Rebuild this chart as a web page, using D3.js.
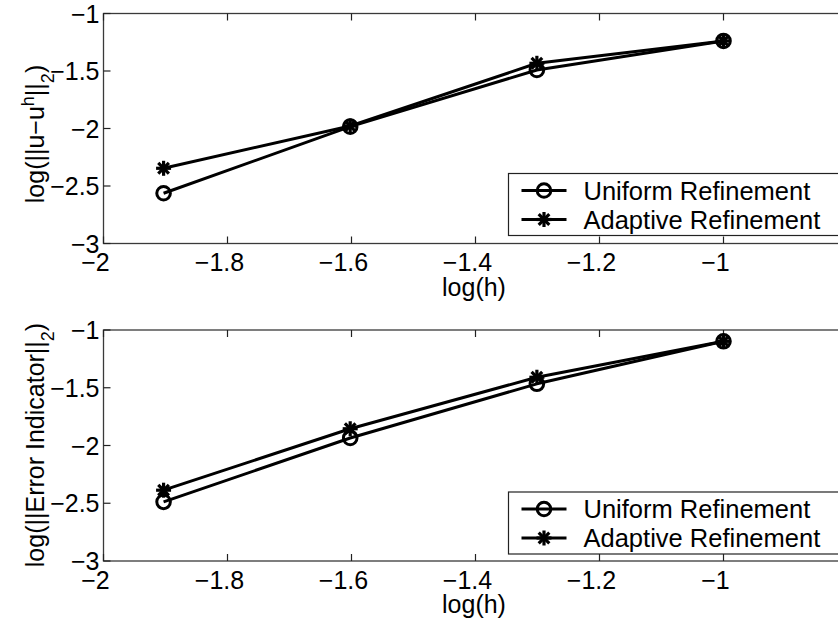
<!DOCTYPE html>
<html>
<head>
<meta charset="utf-8">
<script src="https://cdn.jsdelivr.net/npm/d3@7"></script>
<style>
  html, body { margin: 0; padding: 0; background: #fff; }
  svg { display: block; }
  text { font-family: "Liberation Sans", Arial, Helvetica, sans-serif; fill: #000; }
</style>
</head>
<body>
<svg id="chart" width="838" height="624"></svg>
<script>
// log10(h) for h = 1/80, 1/40, 1/20, 1/10
const logH = [-1.9031, -1.6021, -1.3010, -1.0];

// log(||u - u^h||_2)
const errUniform  = [-2.563, -1.984, -1.491, -1.239];
const errAdaptive = [-2.346, -1.978, -1.433, -1.239];

// log(||Error Indicator||_2)
const indUniform  = [-2.488, -1.935, -1.466, -1.098];
const indAdaptive = [-2.387, -1.855, -1.409, -1.098];

const xTicks = [-2, -1.8, -1.6, -1.4, -1.2, -1];
const yTicks = [-3, -2.5, -2, -1.5, -1];
const seriesNames = ["Uniform Refinement", "Adaptive Refinement"];

const svg = d3.select("#chart");
const fmt = v => String(v).replace("-", "\u2212");
const LW = 3;

function panel(cfg) {
  const x = d3.scaleLinear().domain([-2, -0.8]).range([103.5, 847.5]);
  const y = d3.scaleLinear().domain([-3, -1]).range([cfg.bottom, cfg.top]);
  const g = svg.append("g");

  // frame
  g.append("rect")
    .attr("x", x(-2)).attr("y", y(-1))
    .attr("width", x(-0.8) - x(-2)).attr("height", y(-3) - y(-1))
    .attr("fill", "none").attr("stroke", "#3a3a3a").attr("stroke-width", 1.3);

  // inward ticks on all sides
  const tl = 7;
  xTicks.forEach(t => {
    g.append("line").attr("x1", x(t)).attr("x2", x(t))
      .attr("y1", y(-3)).attr("y2", y(-3) - tl).attr("stroke", "#222").attr("stroke-width", 1.2);
    g.append("line").attr("x1", x(t)).attr("x2", x(t))
      .attr("y1", y(-1)).attr("y2", y(-1) + tl).attr("stroke", "#222").attr("stroke-width", 1.2);
    g.append("text").attr("x", x(t) - 8).attr("y", y(-3) + 27.5)
      .attr("text-anchor", "middle").attr("font-size", 25).text(fmt(t));
  });
  yTicks.forEach(t => {
    g.append("line").attr("x1", x(-2)).attr("x2", x(-2) + tl)
      .attr("y1", y(t)).attr("y2", y(t)).attr("stroke", "#222").attr("stroke-width", 1.2);
    g.append("line").attr("x1", x(-0.8)).attr("x2", x(-0.8) - tl)
      .attr("y1", y(t)).attr("y2", y(t)).attr("stroke", "#222").attr("stroke-width", 1.2);
    g.append("text").attr("x", x(-2) - 4).attr("y", y(t) + 9)
      .attr("text-anchor", "end").attr("font-size", 25).text(fmt(t));
  });

  // x label
  g.append("text").attr("x", 474).attr("y", y(-3) + 52)
    .attr("text-anchor", "middle").attr("font-size", 25).text("log(h)");

  // y label
  const yl = g.append("text")
    .attr("transform", `translate(44,${cfg.ylabelY}) rotate(-90)`)
    .attr("text-anchor", "middle").attr("font-size", 25);
  cfg.ylabel(yl);

  const line = d3.line().x((d, i) => x(logH[i])).y(d => y(d));

  const series = [
    { vals: cfg.uniform, marker: "circle" },
    { vals: cfg.adaptive, marker: "star" }
  ];
  series.forEach(s => {
    g.append("path").datum(s.vals).attr("d", line)
      .attr("fill", "none").attr("stroke", "#000").attr("stroke-width", LW)
      .attr("stroke-linejoin", "round");
  });
  series.forEach(s => {
    s.vals.forEach((v, i) => drawMarker(g, s.marker, x(logH[i]), y(v)));
  });

  // legend
  const lx = 508.5, ly = cfg.legendTop, lh = 62;
  g.append("rect").attr("x", lx).attr("y", ly).attr("width", 360).attr("height", lh)
    .attr("fill", "#fff").attr("stroke", "#222").attr("stroke-width", 1.2);
  seriesNames.forEach((name, i) => {
    const cy = ly + 17 + i * 29;
    g.append("line").attr("x1", lx + 13).attr("x2", lx + 58)
      .attr("y1", cy).attr("y2", cy).attr("stroke", "#000").attr("stroke-width", LW);
    drawMarker(g, i === 0 ? "circle" : "star", lx + 35.5, cy);
    g.append("text").attr("x", lx + 75).attr("y", cy + 9)
      .attr("font-size", 25.5).text(name);
  });
}

function drawMarker(g, type, cx, cy) {
  if (type === "circle") {
    g.append("circle").attr("cx", cx).attr("cy", cy).attr("r", 6.8)
      .attr("fill", "none").attr("stroke", "#000").attr("stroke-width", LW);
  } else {
    const r = 7.5;
    for (let k = 0; k < 4; k++) {
      const a = k * Math.PI / 4;
      g.append("line")
        .attr("x1", cx - r * Math.cos(a)).attr("y1", cy - r * Math.sin(a))
        .attr("x2", cx + r * Math.cos(a)).attr("y2", cy + r * Math.sin(a))
        .attr("stroke", "#000").attr("stroke-width", 3.2);
    }
  }
}

panel({
  top: 13.5, bottom: 243.5, legendTop: 173.5, ylabelY: 134,
  uniform: errUniform, adaptive: errAdaptive,
  ylabel: t => {
    t.append("tspan").text("log(||u\u2212u");
    t.append("tspan").attr("baseline-shift", "super").attr("font-size", 18).text("h");
    t.append("tspan").text("||");
    t.append("tspan").attr("baseline-shift", "sub").attr("font-size", 18).text("2");
    t.append("tspan").text(")");
  }
});

panel({
  top: 330, bottom: 561, legendTop: 492, ylabelY: 445,
  uniform: indUniform, adaptive: indAdaptive,
  ylabel: t => {
    t.append("tspan").text("log(||Error Indicator||");
    t.append("tspan").attr("baseline-shift", "sub").attr("font-size", 18).text("2");
    t.append("tspan").text(")");
  }
});
</script>
</body>
</html>
